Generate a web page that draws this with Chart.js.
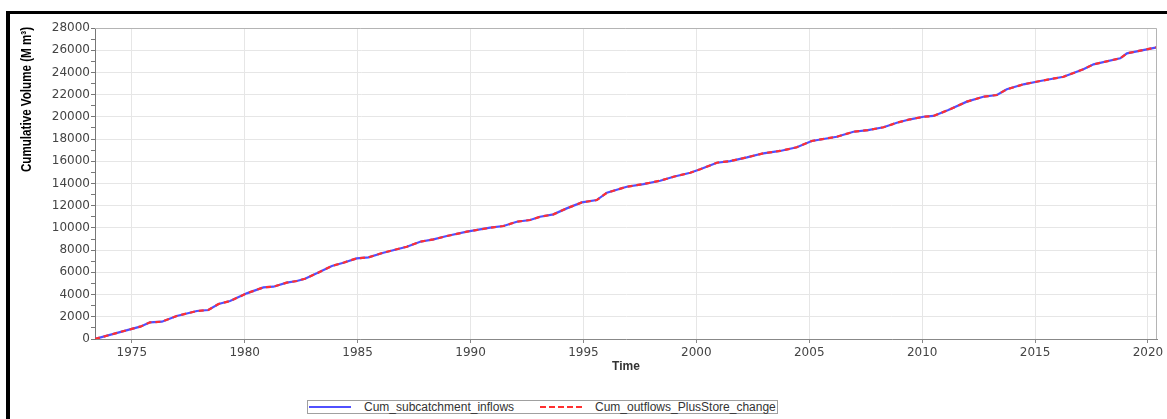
<!DOCTYPE html>
<html lang="en">

<head>
  <meta charset="UTF-8">
  <title>Cumulative volume</title>
  <script src="https://cdn.jsdelivr.net/npm/chart.js@4.4.1/dist/chart.umd.min.js"></script>
  <style>
    html, body { margin: 0; padding: 0; background: #fff; overflow: hidden; }
    body { width: 1167px; height: 419px; position: relative; }
    .frame { position: absolute; left: 6px; top: 11px; width: 1200px; height: 440px;
             border-top: 3px solid #000; border-left: 4px solid #000; }
    .wrap { position: absolute; left: 0; top: 0; width: 1167px; height: 390px; }
    .legend { position: absolute; left: 307px; top: 400px; width: 469px; height: 12px;
              border: 1px solid #a0a0a0; font: 12px 'Liberation Sans', Arial, sans-serif; color: #333; }
    .legend span { position: absolute; top: -1px; line-height: 14px; white-space: nowrap; }
    .legend i { position: absolute; top: 5px; height: 0; }
  </style>
</head>

<body>
  <div class="frame"></div>
  <div class="wrap"><canvas id="c"></canvas></div>
  <div class="legend">
    <i style="left:1px;width:42px;border-top:2px solid #5050ff"></i>
    <span style="left:56px">Cum_subcatchment_inflows</span>
    <i style="left:232px;width:42px;border-top:2px dashed #ff3030"></i>
    <span style="left:287px">Cum_outflows_PlusStore_change</span>
  </div>
</body>

<script>
  // years (decimal) and cumulative volume in M m3
  const years = [1973.37, 1974.92, 1975.37, 1975.81, 1976.33, 1976.99, 1977.88, 1978.39, 1978.84, 1979.35,
    1980.09, 1980.83, 1981.27, 1981.86, 1982.31, 1982.67, 1983.19, 1983.86, 1984.37, 1984.96,
    1985.48, 1986.14, 1987.18, 1987.77, 1988.36, 1988.95, 1989.84, 1990.87, 1991.46, 1992.05,
    1992.64, 1993.08, 1993.67, 1994.26, 1994.93, 1995.59, 1996.04, 1996.92, 1997.66, 1998.40,
    1998.99, 1999.73, 2000.17, 2000.91, 2001.50, 2002.24, 2002.97, 2003.71, 2004.45, 2005.11,
    2006.22, 2006.96, 2007.60, 2008.29, 2008.88, 2009.47, 2010.06, 2010.50, 2011.16, 2011.98,
    2012.71, 2013.31, 2013.75, 2014.49, 2015.23, 2016.26, 2017.14, 2017.59, 2018.77, 2019.07,
    2020.39];
  const inflows = [0, 870, 1110, 1500, 1560, 2070, 2520, 2610, 3150, 3420,
    4110, 4650, 4710, 5070, 5220, 5430, 5910, 6570, 6870, 7260,
    7350, 7770, 8310, 8760, 8970, 9270, 9660, 10020, 10170, 10560,
    10710, 11010, 11220, 11760, 12300, 12510, 13170, 13710, 13950, 14250,
    14610, 14970, 15280, 15870, 16020, 16350, 16720, 16930, 17260, 17830,
    18210, 18660, 18800, 19060, 19470, 19780, 20010, 20080, 20620, 21370,
    21810, 21970, 22480, 22930, 23230, 23610, 24280, 24730, 25270, 25720,
    26260];
  // the two curves sit on top of each other for the whole record
  const outflowsPlusStore = [0, 870, 1110, 1500, 1560, 2070, 2520, 2610, 3150, 3420,
    4110, 4650, 4710, 5070, 5220, 5430, 5910, 6570, 6870, 7260,
    7350, 7770, 8310, 8760, 8970, 9270, 9660, 10020, 10170, 10560,
    10710, 11010, 11220, 11760, 12300, 12510, 13170, 13710, 13950, 14250,
    14610, 14970, 15280, 15870, 16020, 16350, 16720, 16930, 17260, 17830,
    18210, 18660, 18800, 19060, 19470, 19780, 20010, 20080, 20620, 21370,
    21810, 21970, 22480, 22930, 23230, 23610, 24280, 24730, 25270, 25720,
    26260];
  const xTicks = [1975, 1980, 1985, 1990, 1995, 2000, 2005, 2010, 2015, 2020];
  const yTitle = 'Cumulative Volume (M m³)';

  const tickFont = { family: "'DejaVu Sans', sans-serif", size: 12 };

  // grey box round the plot area + narrow bold y title
  const plotBox = {
    id: 'plotBox',
    afterDraw(chart) {
      const a = chart.chartArea, ctx = chart.ctx;
      ctx.save();
      ctx.strokeStyle = '#b4b4b4';
      ctx.lineWidth = 1;
      ctx.beginPath();
      ctx.moveTo(a.left, a.top + 0.5);
      ctx.lineTo(a.right - 0.5, a.top + 0.5);
      ctx.lineTo(a.right - 0.5, a.bottom);
      ctx.stroke();
      ctx.restore();

      ctx.save();
      ctx.translate(27, a.top - 1);
      ctx.rotate(-Math.PI / 2);
      ctx.scale(0.83, 1);
      ctx.font = "bold 14px 'Liberation Sans', Arial, sans-serif";
      ctx.fillStyle = '#000';
      ctx.textAlign = 'right';
      ctx.textBaseline = 'middle';
      ctx.fillText(yTitle, 0, 0);
      ctx.restore();
    }
  };

  new Chart(document.getElementById('c'), {
    type: 'line',
    data: {
      datasets: [{
        label: 'Cum_subcatchment_inflows',
        data: years.map((t, i) => ({ x: t, y: inflows[i] })),
        borderColor: '#5050ff',
        borderWidth: 2.2,
        pointRadius: 0,
        order: 2
      }, {
        label: 'Cum_outflows_PlusStore_change',
        data: years.map((t, i) => ({ x: t, y: outflowsPlusStore[i] })),
        borderColor: '#ff3030',
        borderWidth: 2.2,
        borderDash: [5, 4],
        pointRadius: 0,
        order: 1
      }]
    },
    options: {
      responsive: true,
      maintainAspectRatio: false,
      animation: false,
      layout: { padding: { top: 28, right: 10, left: 0, bottom: 0 } },
      plugins: { legend: { display: false }, tooltip: { enabled: false } },
      scales: {
        x: {
          type: 'linear',
          min: 1973.37,
          max: 2020.4,
          afterBuildTicks: s => { s.ticks = xTicks.map(v => ({ value: v })); },
          afterFit: s => { s.height = 51; },
          grid: { color: '#e6e6e6', tickColor: '#888', tickLength: 4 },
          border: { color: '#888' },
          ticks: { font: tickFont, color: '#444', padding: 3, maxRotation: 0, callback: v => String(v) },
          title: {
            display: true, text: 'Time', color: '#333',
            font: { family: "'Liberation Sans', Arial, sans-serif", size: 12, weight: 'bold' },
            padding: { top: 0, bottom: 16 }
          }
        },
        y: {
          min: 0,
          max: 28000,
          afterFit: s => { s.width = 95; },
          ticks: {
            stepSize: 1000, autoSkip: false, font: tickFont, color: '#444', padding: 1,
            callback: v => (v % 2000 === 0 ? String(v) : '')
          },
          grid: {
            color: c => (c.tick && c.tick.value % 2000 === 0 ? '#e6e6e6' : 'rgba(0,0,0,0)'),
            tickColor: '#777',
            tickLength: 4
          },
          border: { color: '#777' }
        }
      }
    },
    plugins: [plotBox]
  });
</script>

</html>
